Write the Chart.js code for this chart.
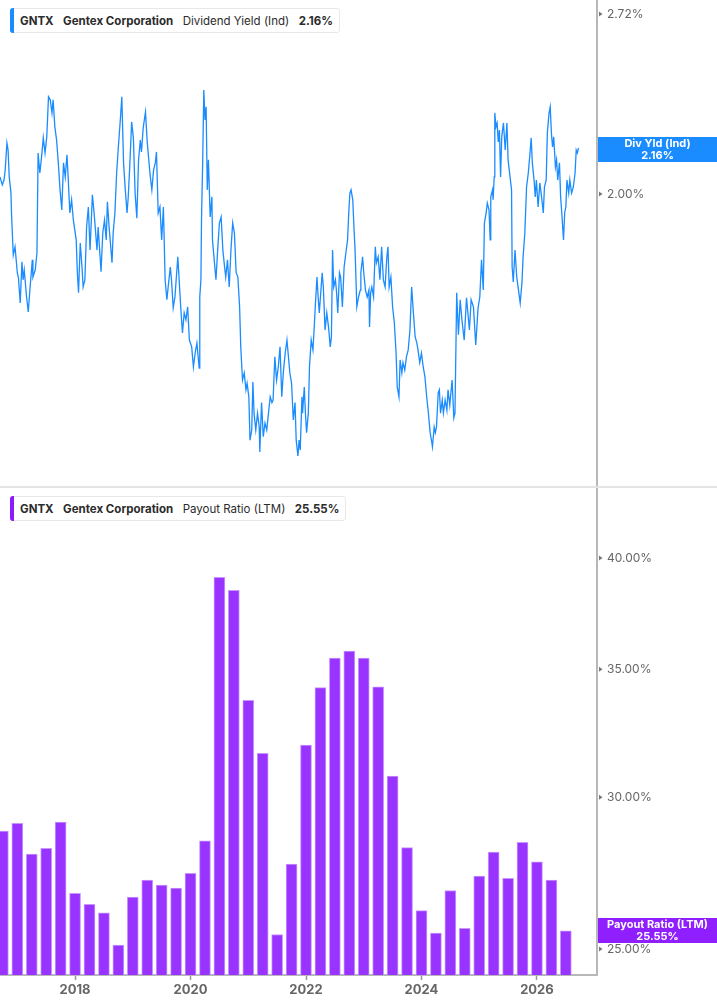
<!DOCTYPE html>
<html>
<head>
<meta charset="utf-8">
<script src="https://cdn.jsdelivr.net/npm/chart.js@4.4.1/dist/chart.umd.min.js"></script>
<style>
  html, body { margin: 0; padding: 0; background: #fff; }
  body { width: 717px; height: 1005px; position: relative; overflow: hidden; font-family: Inter, "Noto Sans", sans-serif; }
  canvas { position: absolute; left: 0; }
  #yieldCanvas { top: 0; }
  #payoutCanvas { top: 487px; }
  .divider { position: absolute; left: 0; top: 486px; width: 717px; height: 2px; background: #e4e4e4; }
  .legend { position: absolute; left: 10px; height: 23px; border: 1px solid #e8e8e8; border-radius: 3px; background: #fff;
            display: flex; align-items: center; font-size: 11.5px; color: #2b2b2b; padding: 0 6px 0 9px; white-space: nowrap; }
  .legend::before { content: ''; position: absolute; left: -1px; top: -1px; bottom: -1px; width: 4px; border-radius: 3px 0 0 3px; background: var(--accent); }
  .legend span { margin-right: 9.5px; }
  .legend span:last-child { margin-right: 0; }
  .legend b { font-weight: 700; }
  .tag { position: absolute; left: 598px; width: 119px; height: 25px; color: #fff; font-weight: 700; font-size: 11px;
         line-height: 11.5px; text-align: center; padding-top: 1px; box-sizing: border-box; }
</style>
</head>
<body>
<canvas id="yieldCanvas" width="717" height="487"></canvas>
<canvas id="payoutCanvas" width="717" height="518"></canvas>
<div class="divider"></div>

<div class="legend" style="top:8px; --accent:#1a8cff">
  <span><b>GNTX</b></span><span><b>Gentex Corporation</b></span><span>Dividend Yield (Ind)</span><span><b>2.16%</b></span>
</div>
<div class="legend" style="top:496px; --accent:#8c1aff">
  <span><b>GNTX</b></span><span><b>Gentex Corporation</b></span><span>Payout Ratio (LTM)</span><span><b>25.55%</b></span>
</div>

<div class="tag" style="top:137px; background:#1a8cff">Div Yld (Ind)<br>2.16%</div>
<div class="tag" style="top:918px; background:#8f1fff">Payout Ratio (LTM)<br>25.55%</div>

<script>
// ---- DIVIDEND YIELD (IND), % (decimal year / value) ----
const yieldDates = [
  2016.70, 2016.74, 2016.77, 2016.79, 2016.82, 2016.84, 2016.86, 2016.89, 2016.90, 2016.93, 2016.96,
  2017.00, 2017.02, 2017.05, 2017.08, 2017.10, 2017.12, 2017.16, 2017.19, 2017.22, 2017.26, 2017.27, 2017.31,
  2017.34, 2017.36, 2017.39, 2017.42, 2017.45, 2017.48, 2017.51, 2017.54, 2017.57, 2017.60, 2017.62, 2017.65,
  2017.68, 2017.71, 2017.74, 2017.77, 2017.80, 2017.83, 2017.86, 2017.88, 2017.91, 2017.94, 2017.97,
  2018.02, 2018.04, 2018.06, 2018.09, 2018.12, 2018.14, 2018.17, 2018.20, 2018.23, 2018.26, 2018.30, 2018.33,
  2018.38, 2018.40, 2018.45, 2018.48, 2018.51, 2018.54, 2018.56, 2018.59, 2018.64, 2018.66, 2018.69, 2018.72,
  2018.75, 2018.78, 2018.81, 2018.84, 2018.87, 2018.90, 2018.92, 2018.95, 2018.98,
  2019.01, 2019.04, 2019.07, 2019.10, 2019.13, 2019.15, 2019.18, 2019.22, 2019.25, 2019.30, 2019.33, 2019.36,
  2019.39, 2019.41, 2019.44, 2019.47, 2019.50, 2019.53, 2019.56, 2019.59, 2019.62, 2019.65, 2019.67, 2019.70,
  2019.73, 2019.76, 2019.78, 2019.81, 2019.83, 2019.86, 2019.89, 2019.92, 2019.95, 2019.98,
  2020.02, 2020.05, 2020.08, 2020.11, 2020.15, 2020.16, 2020.18, 2020.19, 2020.21, 2020.23, 2020.25, 2020.27,
  2020.29, 2020.31, 2020.34, 2020.37, 2020.38, 2020.41, 2020.44, 2020.47, 2020.50, 2020.53, 2020.56, 2020.59,
  2020.61, 2020.64, 2020.67, 2020.70, 2020.73, 2020.76, 2020.79, 2020.82, 2020.85, 2020.87, 2020.90, 2020.93,
  2020.96, 2020.98,
  2021.01, 2021.03, 2021.06, 2021.08, 2021.10, 2021.13, 2021.16, 2021.19, 2021.20, 2021.23, 2021.26, 2021.29,
  2021.32, 2021.35, 2021.38, 2021.41, 2021.43, 2021.46, 2021.49, 2021.52, 2021.55, 2021.58, 2021.61, 2021.64,
  2021.67, 2021.69, 2021.72, 2021.75, 2021.78, 2021.81, 2021.83, 2021.86, 2021.88, 2021.90, 2021.93, 2021.94,
  2021.97, 2021.99,
  2022.01, 2022.04, 2022.06, 2022.09, 2022.12, 2022.14, 2022.16, 2022.19, 2022.21, 2022.23, 2022.25, 2022.28,
  2022.30, 2022.33, 2022.36, 2022.39, 2022.42, 2022.44, 2022.46, 2022.48, 2022.51, 2022.53, 2022.55, 2022.58,
  2022.60, 2022.63, 2022.66, 2022.69, 2022.72, 2022.74, 2022.76, 2022.78, 2022.81, 2022.83, 2022.85, 2022.88,
  2022.91, 2022.94, 2022.95, 2022.98,
  2023.00, 2023.03, 2023.06, 2023.09, 2023.10, 2023.12, 2023.14, 2023.17, 2023.20, 2023.22, 2023.25, 2023.28,
  2023.31, 2023.34, 2023.37, 2023.40, 2023.42, 2023.44, 2023.47, 2023.50, 2023.53, 2023.56, 2023.58, 2023.61,
  2023.63, 2023.66, 2023.68, 2023.71, 2023.74, 2023.77, 2023.80, 2023.83, 2023.86, 2023.89, 2023.92, 2023.94,
  2023.97,
  2024.00, 2024.03, 2024.06, 2024.09, 2024.12, 2024.15, 2024.18, 2024.19, 2024.22, 2024.24, 2024.26, 2024.29,
  2024.31, 2024.33, 2024.36, 2024.38, 2024.41, 2024.44, 2024.46, 2024.49, 2024.53, 2024.56, 2024.58, 2024.61,
  2024.64, 2024.67, 2024.70, 2024.74, 2024.78, 2024.83, 2024.86, 2024.90, 2024.94, 2024.98,
  2025.01, 2025.04, 2025.07, 2025.09, 2025.12, 2025.14, 2025.17, 2025.19, 2025.20, 2025.23, 2025.24, 2025.26,
  2025.27, 2025.29, 2025.31, 2025.33, 2025.35, 2025.37, 2025.39, 2025.42, 2025.45, 2025.48, 2025.50, 2025.53,
  2025.56, 2025.57, 2025.59, 2025.62, 2025.65, 2025.68, 2025.71, 2025.74, 2025.76, 2025.79, 2025.82, 2025.85,
  2025.88, 2025.90, 2025.92, 2025.95, 2025.97, 2025.99,
  2026.02, 2026.05, 2026.08, 2026.11, 2026.13, 2026.16, 2026.18, 2026.21, 2026.23, 2026.25, 2026.27, 2026.29,
  2026.32, 2026.34, 2026.36, 2026.39, 2026.41, 2026.43, 2026.46, 2026.48, 2026.50, 2026.52, 2026.55, 2026.57,
  2026.60, 2026.63, 2026.66, 2026.68, 2026.70, 2026.72
];
const yieldValues = [
  2.059, 2.031, 2.048, 2.084, 2.182, 2.156, 2.059, 2.003, 1.929, 1.802, 1.827,
  1.748, 1.732, 1.660, 1.781, 1.727, 1.756, 1.677, 1.635, 1.703, 1.787, 1.735, 1.756,
  1.808, 2.145, 2.073, 2.131, 2.201, 2.145, 2.205, 2.361, 2.349, 2.297, 2.349, 2.243,
  2.193, 2.109, 2.014, 1.946, 2.109, 2.059, 2.138, 2.059, 1.936, 1.980, 1.913,
  1.849, 1.748, 1.689, 1.839, 1.765, 1.706, 1.727, 1.890, 1.956, 1.817, 1.997, 1.936,
  1.817, 1.890, 1.751, 1.871, 1.913, 1.849, 1.973, 1.890, 1.778, 1.871, 1.936, 2.073,
  2.167, 2.258, 2.361, 2.109, 2.014, 1.936, 1.986, 2.109, 2.262,
  2.201, 2.003, 1.919, 2.120, 2.193, 2.149, 2.239, 2.301, 2.186, 2.066, 2.014, 2.084,
  2.109, 2.149, 1.936, 1.956, 1.849, 1.956, 1.727, 1.669, 1.718, 1.765, 1.727, 1.646,
  1.677, 1.748, 1.796, 1.706, 1.649, 1.577, 1.632, 1.613, 1.649, 1.558,
  1.540, 1.488, 1.524, 1.550, 1.485, 1.677, 1.727, 1.913, 2.109, 2.389, 2.270, 2.321,
  2.014, 2.120, 1.923, 1.990, 1.849, 1.787, 1.727, 1.817, 1.903, 1.923, 1.817, 1.765,
  1.735, 1.787, 1.706, 1.817, 1.903, 1.871, 1.748, 1.735, 1.649, 1.540, 1.455, 1.473,
  1.431, 1.447,
  1.414, 1.313, 1.336, 1.450, 1.375, 1.336, 1.375, 1.343, 1.287, 1.400, 1.321, 1.352,
  1.336, 1.375, 1.414, 1.400, 1.406, 1.514, 1.455, 1.488, 1.540, 1.414, 1.480, 1.524,
  1.558, 1.524, 1.473, 1.447, 1.359, 1.400, 1.313, 1.278, 1.313, 1.291, 1.414, 1.375,
  1.438, 1.375,
  1.330, 1.375, 1.488, 1.558, 1.532, 1.585, 1.649, 1.735, 1.677, 1.632, 1.677, 1.748,
  1.706, 1.585, 1.632, 1.593, 1.540, 1.567, 1.817, 1.706, 1.727, 1.689, 1.632, 1.748,
  1.735, 1.649, 1.765, 1.808, 1.849, 1.936, 2.003, 2.014, 1.980, 1.890, 1.817, 1.649,
  1.677, 1.697, 1.748, 1.796,
  1.748, 1.697, 1.677, 1.697, 1.593, 1.689, 1.706, 1.677, 1.827, 1.778, 1.796, 1.727,
  1.827, 1.727, 1.706, 1.796, 1.827, 1.706, 1.735, 1.649, 1.604, 1.524, 1.438, 1.414,
  1.506, 1.473, 1.499, 1.480, 1.514, 1.532, 1.585, 1.706, 1.632, 1.567, 1.550, 1.532,
  1.499,
  1.524, 1.488, 1.463, 1.414, 1.375, 1.330, 1.307, 1.298, 1.343, 1.330, 1.343, 1.424,
  1.431, 1.375, 1.406, 1.375, 1.406, 1.382, 1.431, 1.394, 1.455, 1.364, 1.375, 1.689,
  1.572, 1.669, 1.613, 1.558, 1.675, 1.585, 1.669, 1.649, 1.545, 1.646,
  1.677, 1.787, 1.697, 1.903, 1.936, 1.969, 1.946, 1.849, 1.990, 2.014, 1.980, 2.059,
  2.297, 2.243, 2.258, 2.186, 2.231, 2.059, 2.205, 2.258, 2.156, 2.258, 2.120, 2.066,
  2.014, 1.765, 1.721, 1.817, 1.735, 1.697, 1.660, 1.718, 1.796, 1.871, 2.024, 2.073,
  2.145, 2.201, 2.109, 2.048, 1.990, 2.048,
  1.956, 2.038, 1.990, 1.936, 2.024, 2.048, 2.220, 2.297, 2.321, 2.220, 2.167, 2.205,
  2.094, 2.120, 2.048, 2.109, 1.990, 1.936, 1.849, 1.936, 1.956, 2.048, 2.003, 2.048,
  2.003, 2.024, 2.073, 2.156, 2.145, 2.164
];

// ---- PAYOUT RATIO (LTM), % — quarterly ----
const payoutDates = [
  2016.75, 2017.00, 2017.25, 2017.50, 2017.75, 2018.00, 2018.25, 2018.50, 2018.75, 2019.00,
  2019.25, 2019.50, 2019.75, 2020.00, 2020.25, 2020.50, 2020.75, 2021.00, 2021.25, 2021.50,
  2021.75, 2022.00, 2022.25, 2022.50, 2022.75, 2023.00, 2023.25, 2023.50, 2023.75, 2024.00,
  2024.25, 2024.50, 2024.75, 2025.00, 2025.25, 2025.50, 2025.75, 2026.00, 2026.25, 2026.50
];
const payoutValues = [
  28.81, 29.08, 28.02, 28.22, 29.12, 26.73, 26.38, 26.11, 25.12, 26.61,
  27.16, 27.00, 26.90, 27.38, 28.47, 39.08, 38.48, 33.71, 31.63, 25.44,
  27.69, 31.95, 34.23, 35.47, 35.77, 35.47, 34.26, 30.78, 28.24, 26.18,
  25.48, 26.82, 25.63, 27.29, 28.09, 27.22, 28.42, 27.76, 27.16, 25.55
];

// ---- AXES ----
const yearTicks = [2018, 2020, 2022, 2024, 2026];
const yieldTicks = [2.00, 2.72];
const payoutTicks = [25, 30, 35, 40];
const xMin = 2016.70, xMax = 2027.04;

const BLUE = '#1a8cff';
const PURPLE = '#9933ff';
const AXIS_GREY = '#b8b8b8';

// small arrow heads next to the right-axis labels
const tickMarkers = {
  id: 'tickMarkers',
  afterDraw(chart) {
    const scale = chart.scales.y;
    const ctx = chart.ctx;
    const x = chart.chartArea.right + 2;
    ctx.save();
    ctx.fillStyle = '#777';
    scale.ticks.forEach(t => {
      const y = scale.getPixelForValue(t.value);
      ctx.beginPath();
      ctx.moveTo(x, y - 2.5);
      ctx.lineTo(x + 3.5, y);
      ctx.lineTo(x, y + 2.5);
      ctx.closePath();
      ctx.fill();
    });
    ctx.restore();
  }
};

function rightAxis(min, max, tickValues) {
  return {
    type: 'logarithmic',
    position: 'right',
    min, max,
    afterFit: s => { s.width = 120; s.paddingTop = 0; s.paddingBottom = 0; },
    afterBuildTicks: s => { s.ticks = tickValues.map(v => ({ value: v })); },
    grid: { display: false, drawTicks: false },
    border: { display: true, color: AXIS_GREY, width: 2 },
    ticks: {
      padding: 10,
      color: '#666',
      font: { family: 'Inter', size: 12 },
      callback: v => Number(v).toFixed(2) + '%'
    }
  };
}

Chart.defaults.font.family = 'Inter';

// ---- TOP: DIVIDEND YIELD LINE ----
new Chart(document.getElementById('yieldCanvas'), {
  type: 'line',
  data: {
    datasets: [{
      data: yieldDates.map((d, i) => ({ x: d, y: yieldValues[i] })),
      borderColor: BLUE,
      borderWidth: 1.3,
      pointRadius: 0,
      tension: 0,
      fill: false
    }]
  },
  options: {
    responsive: false,
    animation: false,
    layout: { padding: 0 },
    plugins: { legend: { display: false }, tooltip: { enabled: false } },
    scales: {
      x: {
        type: 'linear', min: xMin, max: xMax, display: false
      },
      y: rightAxis(1.212, 2.786, yieldTicks)
    }
  },
  plugins: [tickMarkers]
});

// ---- BOTTOM: PAYOUT RATIO BARS ----
new Chart(document.getElementById('payoutCanvas'), {
  type: 'bar',
  data: {
    datasets: [{
      data: payoutDates.map((d, i) => ({ x: d, y: payoutValues[i] })),
      backgroundColor: PURPLE,
      borderColor: '#c896ff',
      borderWidth: 1,
      barThickness: 11
    }]
  },
  options: {
    responsive: false,
    animation: false,
    layout: { padding: 0 },
    plugins: { legend: { display: false }, tooltip: { enabled: false } },
    scales: {
      x: {
        type: 'linear',
        min: xMin, max: xMax,
        offset: false,
        afterFit: s => { s.height = 30; s.paddingLeft = 0; s.paddingRight = 0; },
        afterBuildTicks: s => { s.ticks = yearTicks.map(v => ({ value: v })); },
        grid: { display: true, offset: false, drawOnChartArea: false, drawTicks: true, tickLength: 5, tickColor: '#999', tickWidth: 1.5 },
        border: { display: true, color: AXIS_GREY, width: 2 },
        ticks: {
          padding: 2,
          maxRotation: 0,
          color: '#666',
          font: { family: 'Inter', size: 13, weight: 'bold' },
          callback: v => String(v)
        }
      },
      y: rightAxis(24.23, 43.57, payoutTicks)
    }
  },
  plugins: [tickMarkers]
});
</script>
</body>
</html>
